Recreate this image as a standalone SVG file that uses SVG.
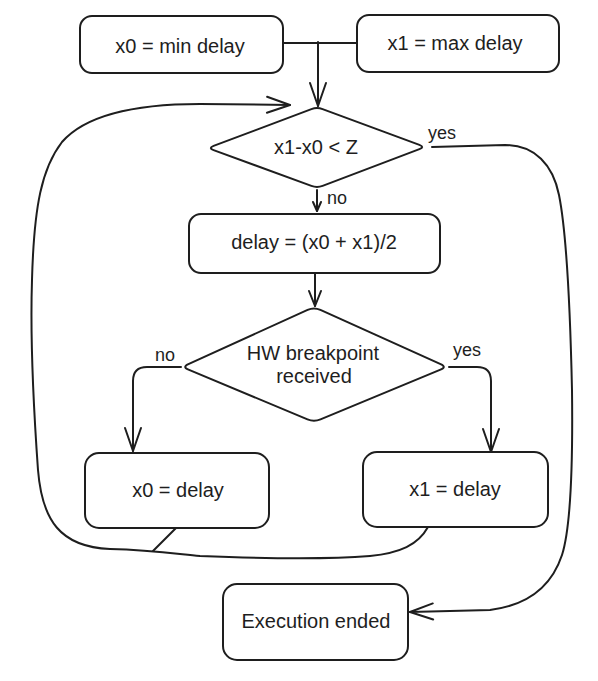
<svg xmlns="http://www.w3.org/2000/svg" width="598" height="681" viewBox="0 0 598 681">
<style>
.n{fill:#ffffff;stroke:#1e1e1e;stroke-width:2;stroke-linejoin:round}
.c{fill:none;stroke:#1e1e1e;stroke-width:2;stroke-linecap:round;stroke-linejoin:round}
.t{font-family:"Liberation Sans",Arial,sans-serif;font-size:20px;fill:#1e1e1e;text-anchor:middle}
.l{font-family:"Liberation Sans",Arial,sans-serif;font-size:18px;fill:#1e1e1e}
</style>
<defs>
<marker id="aL" viewBox="-26 -11 28 22" refX="0" refY="0" markerWidth="28" markerHeight="22" markerUnits="userSpaceOnUse" orient="auto">
<path d="M-23,-8 L0,0 L-23,8" fill="none" stroke="#1e1e1e" stroke-width="2" stroke-linecap="round" stroke-linejoin="round"/>
</marker>
<marker id="aM" viewBox="-18 -9 20 18" refX="0" refY="0" markerWidth="20" markerHeight="18" markerUnits="userSpaceOnUse" orient="auto">
<path d="M-15,-6 L0,0 L-15,6" fill="none" stroke="#1e1e1e" stroke-width="2" stroke-linecap="round" stroke-linejoin="round"/>
</marker>
<marker id="aS" viewBox="-12 -7 14 14" refX="0" refY="0" markerWidth="14" markerHeight="14" markerUnits="userSpaceOnUse" orient="auto">
<path d="M-9,-4 L0,0 L-9,4" fill="none" stroke="#1e1e1e" stroke-width="2" stroke-linecap="round" stroke-linejoin="round"/>
</marker>
</defs>

<g id="connectors">
<path class="c" d="M283,43 L357,43"/>
<path class="c" d="M318,42 L318,106" marker-end="url(#aL)"/>
<path class="c" d="M317,190 L317,211" marker-end="url(#aS)"/>
<path class="c" d="M315,274 L315,306" marker-end="url(#aM)"/>
<path class="c" d="M181,367 L147,367 Q133,367 133,381 L133,451" marker-end="url(#aL)"/>
<path class="c" d="M449,367 L477,367 Q491,367 491,381 L491,452" marker-end="url(#aL)"/>
<path class="c" d="M432,147 L505,145 C535,145 553,165 559,195 C566,230 570,300 572,390 C573,470 570,530 562,555 C552,585 530,605 490,610 L410,612" marker-end="url(#aL)"/>
<path class="c" d="M428,527 C418,545 400,553 370,556 C320,560 250,558 200,556 C170,553 150,550 110,549 C60,547 42,520 38,470 C33,400 30,340 32,280 C34,205 42,168 62,142 C90,110 150,104 200,104 L290,105" marker-end="url(#aL)"/>
<path class="c" d="M176,528 L153,551"/>
<text class="l" x="428" y="139">yes</text>
<text class="l" x="327" y="204">no</text>
<text class="l" x="155" y="361">no</text>
<text class="l" x="453" y="356">yes</text>
</g>

<g id="n1">
<rect class="n" x="80" y="16" width="203" height="57" rx="12"/>
<text class="t" x="180" y="53">x0 = min delay</text>
</g>
<g id="n2">
<rect class="n" x="357" y="15" width="202" height="57" rx="12"/>
<text class="t" x="455" y="50">x1 = max delay</text>
</g>
<g id="n3">
<path class="n" d="M311.4,109.1 Q317,107 322.6,109.1 L419.4,144.9 Q425,147 419.4,149.1 L322.6,185.9 Q317,188 311.4,185.9 L213.6,150.1 Q208,148 213.6,145.9 Z"/>
<text class="t" x="316" y="154">x1-x0 &lt; Z</text>
</g>
<g id="n4">
<rect class="n" x="189" y="214" width="251" height="59" rx="12"/>
<text class="t" x="314" y="249">delay = (x0 + x1)/2</text>
</g>
<g id="n5">
<path class="n" d="M307.6,309.9 Q314,307 320.4,309.9 L440.6,364.1 Q447,367 440.5,369.7 L320.5,419.3 Q314,422 307.5,419.3 L188.5,369.7 Q182,367 188.4,364.1 Z"/>
<text class="t" x="313" y="360">HW breakpoint</text>
<text class="t" x="314" y="383">received</text>
</g>
<g id="n6">
<rect class="n" x="85" y="453" width="184" height="75" rx="14"/>
<text class="t" x="178" y="497">x0 = delay</text>
</g>
<g id="n7">
<rect class="n" x="363" y="452" width="185" height="75" rx="14"/>
<text class="t" x="455" y="496">x1 = delay</text>
</g>
<g id="n8">
<rect class="n" x="223" y="584" width="185" height="76" rx="14"/>
<text class="t" x="316" y="628">Execution ended</text>
</g>
</svg>
